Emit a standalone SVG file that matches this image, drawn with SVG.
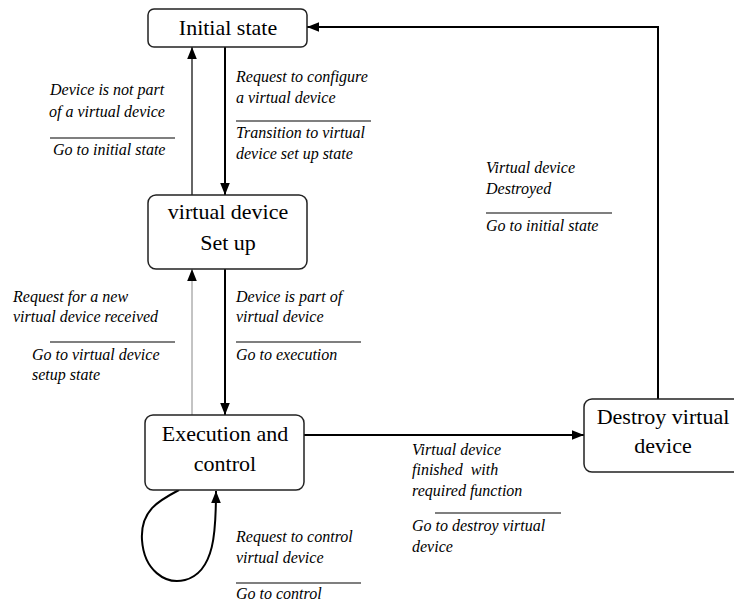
<svg xmlns="http://www.w3.org/2000/svg" width="734" height="606" viewBox="0 0 734 606" font-family="Liberation Serif, DejaVu Serif, serif">
<style>
.box{fill:#fff;stroke:#222;stroke-width:1.5}
.nt{font-size:22px;fill:#000;text-anchor:middle}
.lb{font-style:italic;font-size:16px;fill:#000}
.c{fill:none;stroke:#000;stroke-width:2}
.thin{fill:none;stroke:#888;stroke-width:1}
.sep{stroke:#000;stroke-width:1.2}
</style>
<defs>
<marker id="ahl" viewBox="0 0 10 10" refX="10" refY="5" markerWidth="12" markerHeight="12" markerUnits="userSpaceOnUse" orient="auto">
<path d="M0,1 L10,5 L0,9 z" fill="#000"/>
</marker>
</defs>
<rect width="734" height="606" fill="#fff"/>
<g id="connectors">
<line class="c" x1="225" y1="47" x2="225" y2="195" marker-end="url(#ahl)"/>
<line x1="192" y1="195" x2="192" y2="47" stroke="#333" stroke-width="1.5" marker-end="url(#ahl)"/>
<line class="thin" x1="192" y1="415" x2="192" y2="269" marker-end="url(#ahl)"/>
<line class="c" x1="225" y1="269" x2="225" y2="415" marker-end="url(#ahl)"/>
<line class="c" x1="304" y1="435" x2="584" y2="435" marker-end="url(#ahl)"/>
<polyline class="c" points="658,399 658,27 307,27" marker-end="url(#ahl)"/>
<path class="c" d="M179,490 C160,500 140,510 142,540 C144,570 165,585 185,580 C215,572 216,530 216,491" marker-end="url(#ahl)"/>
</g>
<g id="initial">
<rect class="box" x="148" y="9" width="159" height="38" rx="6"/>
<text class="nt" x="228" y="35" font-family="Liberation Serif, serif">Initial state</text>
</g>
<g id="setup">
<rect class="box" x="148" y="195" width="159" height="74" rx="8"/>
<text class="nt" x="228" y="219">virtual device</text>
<text class="nt" x="228" y="250">Set up</text>
</g>
<g id="execution">
<rect class="box" x="145" y="415" width="159" height="75" rx="8"/>
<text class="nt" x="225" y="441">Execution and</text>
<text class="nt" x="225" y="471">control</text>
</g>
<g id="destroy">
<rect class="box" x="584" y="399" width="170" height="73" rx="8"/>
<text class="nt" x="663" y="424">Destroy virtual</text>
<text class="nt" x="663" y="453">device</text>
</g>
<g id="labels">
<text class="lb" x="50" y="95">Device is not part</text>
<text class="lb" x="49" y="117">of a virtual device</text>
<line class="sep" x1="50" y1="138" x2="175" y2="138"/>
<text class="lb" x="53" y="155">Go to initial state</text>

<text class="lb" x="236" y="82">Request to configure</text>
<text class="lb" x="236" y="103">a virtual device</text>
<line class="sep" x1="236" y1="121" x2="371" y2="121"/>
<text class="lb" x="236" y="138">Transition to virtual</text>
<text class="lb" x="236" y="159">device set up state</text>

<text class="lb" x="13" y="302">Request for a new</text>
<text class="lb" x="13" y="322">virtual device received</text>
<line class="sep" x1="50" y1="342" x2="175" y2="342"/>
<text class="lb" x="32" y="360">Go to virtual device</text>
<text class="lb" x="32" y="380">setup state</text>

<text class="lb" x="236" y="302">Device is part of</text>
<text class="lb" x="236" y="322">virtual device</text>
<line class="sep" x1="236" y1="342" x2="361" y2="342"/>
<text class="lb" x="236" y="360">Go to execution</text>

<text class="lb" x="236" y="542">Request to control</text>
<text class="lb" x="236" y="563">virtual device</text>
<line class="sep" x1="236" y1="583" x2="361" y2="583"/>
<text class="lb" x="236" y="599">Go to control</text>

<text class="lb" x="486" y="173">Virtual device</text>
<text class="lb" x="486" y="194">Destroyed</text>
<line class="sep" x1="486" y1="213" x2="612" y2="213"/>
<text class="lb" x="486" y="231">Go to initial state</text>

<text class="lb" x="412" y="455">Virtual device</text>
<text class="lb" x="412" y="475" xml:space="preserve">finished  with</text>
<text class="lb" x="412" y="496">required function</text>
<line class="sep" x1="435" y1="513" x2="561" y2="513"/>
<text class="lb" x="412" y="531">Go to destroy virtual</text>
<text class="lb" x="412" y="552">device</text>
</g>
</svg>
